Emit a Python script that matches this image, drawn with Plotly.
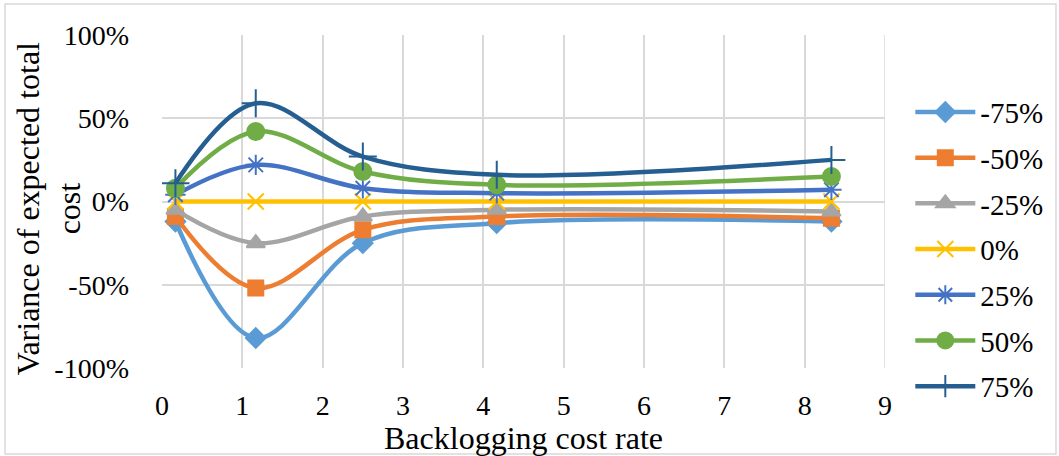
import plotly.graph_objects as go

x_vals = [0.167, 1.167, 2.5, 4.167, 8.333]
series_names = ["-75%", "-50%", "-25%", "0%", "25%", "50%", "75%"]
s_m75 = [-0.12, -0.82, -0.25, -0.13, -0.12]
s_m50 = [-0.09, -0.52, -0.17, -0.09, -0.10]
s_m25 = [-0.05, -0.25, -0.09, -0.05, -0.06]
s_0 = [0.0, 0.0, 0.0, 0.0, 0.0]
s_25 = [0.04, 0.22, 0.08, 0.05, 0.07]
s_50 = [0.08, 0.42, 0.18, 0.10, 0.15]
s_75 = [0.11, 0.59, 0.27, 0.16, 0.25]
series_values = [s_m75, s_m50, s_m25, s_0, s_25, s_50, s_75]

y_tickvals = [-1, -0.5, 0, 0.5, 1]
y_ticktext = ["-100%", "-50%", "0%", "50%", "100%"]

colors = ["#5B9BD5", "#ED7D31", "#A5A5A5", "#FFC000", "#4472C4", "#70AD47", "#255E91"]
symbols = ["diamond", "square", "triangle-up", "x-thin-open", "asterisk-open", "circle", "cross-thin-open"]
sizes = [15, 15, 16, 16, 17, 17, 20]

fig = go.Figure()
for i, (name, vals) in enumerate(zip(series_names, series_values)):
    fig.add_trace(go.Scatter(
        x=x_vals, y=vals, name=name, mode="lines+markers",
        line=dict(color=colors[i], width=4.5, shape="spline", smoothing=1.0),
        marker=dict(symbol=symbols[i], size=sizes[i], color=colors[i],
                    line=dict(color=colors[i], width=2)),
        legendgroup=name,
    ))

font_family = "Liberation Serif"
fs = 28
fs_title = 32
fig.update_layout(
    width=1059, height=456,
    paper_bgcolor="white", plot_bgcolor="white",
    margin=dict(l=162, r=174, t=35, b=88, autoexpand=False),
    font=dict(family=font_family, size=fs, color="black"),
    showlegend=True,
    legend=dict(x=1.035, y=0.845, xanchor="left", yanchor="top",
                traceorder="grouped", tracegroupgap=5, maxheight=440,
                font=dict(family=font_family, size=29),
                itemwidth=60),
    xaxis=dict(range=[0, 9], tickvals=list(range(10)), showgrid=True, gridcolor="#D9D9D9",
               gridwidth=1.5, zeroline=False, showline=False, ticks="",
               ticklabelstandoff=18, tickfont=dict(family=font_family, size=fs),
               title=dict(text="Backlogging cost rate", standoff=0,
                          font=dict(family=font_family, size=fs_title))),
    yaxis=dict(range=[-1, 1], tickvals=y_tickvals, ticktext=y_ticktext, showgrid=True,
               gridcolor="#D9D9D9", gridwidth=1.5, zeroline=False, showline=False,
               ticks="", ticklabelstandoff=32, tickfont=dict(family=font_family, size=fs)),
    annotations=[dict(text="Variance of expected total<br>cost", textangle=-90,
                      xref="paper", yref="paper", x=(49 - 162) / 723, y=0.477,
                      xanchor="center", yanchor="middle", showarrow=False,
                      font=dict(family=font_family, size=fs_title))],
    shapes=[dict(type="rect", xref="paper", yref="paper",
                 x0=(5 - 162) / 723, x1=(1056 - 162) / 723,
                 y0=-(454 - 368) / 333, y1=1 + (35 - 4) / 333,
                 line=dict(color="#D9D9D9", width=1.5), layer="below"),
            dict(type="line", xref="x", yref="y", x0=9, x1=9, y0=-1, y1=1,
                 line=dict(color="#D9D9D9", width=1.5), layer="below")],
)
fig.write_html("out.html", config={"displayModeBar": False},
               post_script="document.body.style.margin='0px';")
